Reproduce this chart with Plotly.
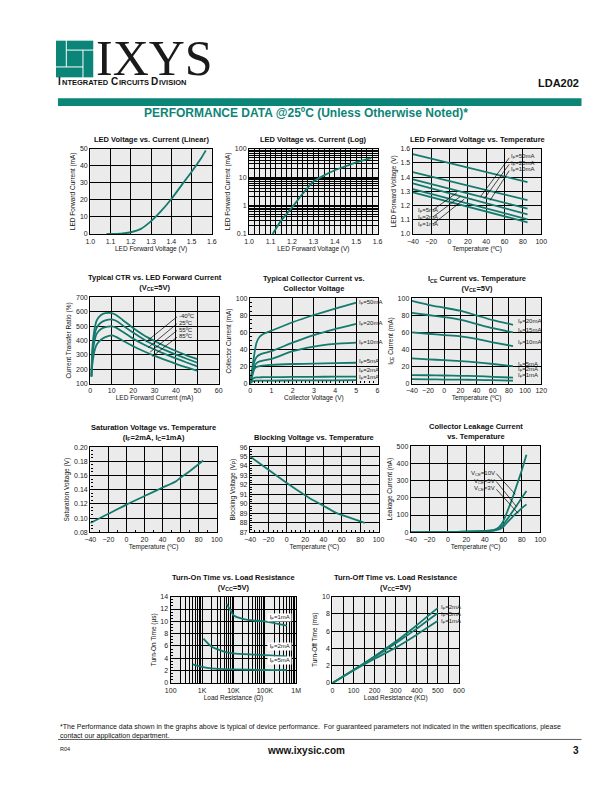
import plotly.graph_objects as go

W, H = 612, 792
TEAL = '#0B8577'
CURVE = '#157A6E'
FONT = 'Liberation Sans, Arial, sans-serif'

# ---- data ----
# 1 LED voltage vs current (linear)
led_vf = [1.08, 1.15, 1.20, 1.25, 1.30, 1.35, 1.40, 1.45, 1.50, 1.55, 1.57]
led_if = [0.0, 0.2, 1.0, 3.0, 7.5, 13.5, 20.5, 28.5, 36.5, 45.0, 49.0]
# 2 LED voltage vs current (log)
log_vf = [1.11, 1.15, 1.20, 1.25, 1.30, 1.35, 1.40, 1.45, 1.50, 1.57]
log_if = [0.1, 0.3, 0.85, 2.6, 7.0, 11.5, 17.5, 24.0, 33.0, 47.0]
# 3 LED forward voltage vs temperature
vft_temp = [-40, 85]
vft_curves = {
    '50mA': [1.562, 1.365],
    '20mA': [1.436, 1.238],
    '10mA': [1.384, 1.178],
    '5mA': [1.356, 1.138],
    '2mA': [1.316, 1.103],
    '1mA': [1.293, 1.082],
}
# 4 CTR vs LED forward current
ctr_if = [0.5, 1, 2, 3, 5, 7, 10, 12, 15, 20, 25, 30, 35, 40, 45, 50]
ctr_curves = {
    '-40ºC': [150, 350, 480, 540, 578, 590, 590, 578, 545, 487, 437, 397, 360, 327, 297, 270],
    '25ºC': [150, 320, 440, 490, 525, 540, 547, 537, 507, 455, 407, 367, 333, 302, 273, 245],
    '55ºC': [150, 290, 400, 448, 480, 493, 498, 490, 462, 413, 372, 337, 305, 275, 247, 220],
    '85ºC': [150, 240, 330, 372, 405, 423, 435, 425, 400, 360, 325, 293, 265, 238, 213, 190],
}
# 5 collector current vs collector voltage
vce = [0, 0.1, 0.2, 0.3, 0.45, 0.6, 1, 2, 3, 4, 5]
ic_curves = {
    '50mA': [0, 18, 35, 48, 55, 58, 62, 72, 80.5, 88, 95],
    '20mA': [0, 14, 26, 31, 34, 35.5, 38, 48, 57, 64, 70],
    '10mA': [0, 11, 20, 24, 26, 27, 29, 38, 43.5, 46.5, 48],
    '5mA': [0, 9, 17, 19.5, 20.5, 21, 22, 23, 23.5, 24, 24.5],
    '2mA': [0, 5, 6.8, 7.2, 7.4, 7.5, 7.6, 7.8, 8, 8.1, 8.2],
    '1mA': [0, 2.6, 3.2, 3.4, 3.5, 3.5, 3.6, 3.7, 3.8, 3.9, 4],
}
# 6 ICE current vs temperature
ice_temp = [-40, -20, 0, 20, 40, 60, 85]
ice_curves = {
    '20mA': [97, 92.5, 89, 85.5, 80, 74.5, 69],
    '15mA': [83, 80.5, 78, 75, 70, 65, 60],
    '10mA': [60, 58.5, 57, 55.5, 52.5, 48.5, 44],
    '5mA': [29.5, 28.5, 27.5, 26.5, 25, 23, 20.5],
    '2mA': [10, 9.8, 9.5, 9.2, 8.8, 8, 7],
    '1mA': [5.2, 5, 4.8, 4.6, 4.4, 4, 3.5],
}
# 7 saturation voltage vs temperature
sat_temp = [-40, -20, 0, 20, 40, 55, 60, 70, 85]
sat_v = [0.093, 0.106, 0.119, 0.131, 0.143, 0.152, 0.157, 0.166, 0.181]
# 8 blocking voltage vs temperature
blk_temp = [-40, -20, 0, 20, 25, 40, 55, 70, 85]
blk_v = [95.0, 93.6, 92.2, 90.9, 90.6, 89.8, 89.0, 88.5, 88.0]
# 9 collector leakage current vs temperature
lk_temp = [-40, 0, 20, 40, 50, 55, 60, 65, 70, 75, 80, 85]
lk_curves = {
    '10V': [0, 2, 4, 8, 14, 28, 65, 130, 200, 280, 360, 450],
    '5V': [0, 2, 4, 7, 12, 22, 45, 82, 120, 160, 200, 240],
    '3V': [0, 1.5, 3, 6, 10, 16, 32, 62, 90, 115, 140, 162],
}
# 10 turn-on time vs load resistance
ton_1_r = [6e3, 8e3, 1e4, 2e4, 5e4, 1e5, 2e5, 5e5]
ton_1_t = [12.8, 11.8, 11.0, 10.4, 10.1, 10.0, 9.7, 9.3]
ton_2_r = [1.1e3, 2e3, 5e3, 1e4, 5e4, 1e5, 5e5]
ton_2_t = [7.2, 5.9, 5.1, 4.8, 4.6, 4.5, 4.3]
ton_5_r = [500, 1e3, 2e3, 1e4, 1e5, 5e5]
ton_5_t = [3.0, 2.6, 2.35, 2.2, 2.1, 2.1]
# 11 turn-off time vs load resistance
toff_r = [0, 100, 200, 300, 400, 500]
toff_curves = {
    '2mA': [0, 1.5, 3.1, 4.8, 6.7, 8.7],
    '5mA': [0, 1.5, 3.0, 4.6, 6.3, 8.1],
    '1mA': [0, 1.45, 2.8, 4.1, 5.6, 7.2],
}

fig = go.Figure()


def px(x):
    return x / W


def py(y):
    return 1 - y / H


def panel(n, box, title, xtitle, ytitle, xaxis, yaxis):
    x0, y0, x1, y1 = box
    base = dict(showline=True, linecolor='black', linewidth=1.4, mirror=True,
                showgrid=True, gridcolor='black', gridwidth=1.3, zeroline=False,
                ticks='', tickfont=dict(size=7, color='#222'),
                title_font=dict(size=6.5, color='#111'), fixedrange=True)
    xa = dict(base, domain=[px(x0), px(x1)], anchor=f'y{n}', title_text=xtitle,
              title_standoff=2)
    xa.update(xaxis)
    ya = dict(base, domain=[py(y1), py(y0)], anchor=f'x{n}', title_text=ytitle,
              title_standoff=3)
    ya.update(yaxis)
    sx = 'xaxis' if n == 1 else f'xaxis{n}'
    sy = 'yaxis' if n == 1 else f'yaxis{n}'
    fig.update_layout(**{sx: xa, sy: ya})
    fig.add_annotation(text=f'<b>{title}</b>', x=px((x0 + x1) / 2), y=py(y0 - 3),
                       xref='paper', yref='paper', xanchor='center', yanchor='bottom',
                       showarrow=False, font=dict(size=7.5, color='#111'))


def curve(n, x, y, smooth=0.6):
    fig.add_trace(go.Scatter(x=x, y=y, xaxis=f'x{n}', yaxis=f'y{n}', mode='lines',
                             line=dict(color=CURVE, width=1.8, shape='spline',
                                       smoothing=smooth),
                             showlegend=False, hoverinfo='skip'))


def label(n, x, y, text, xanchor='left', bg=None):
    fig.add_annotation(text=text, x=x, y=y, xref=f'x{n}', yref=f'y{n}',
                       xanchor=xanchor, yanchor='middle', showarrow=False,
                       font=dict(size=6, color='#222'), bgcolor=bg, borderpad=0)


def leader(n, xa, ya, xb, yb):
    fig.add_shape(type='line', x0=xa, y0=ya, x1=xb, y1=yb, xref=f'x{n}', yref=f'y{n}',
                  line=dict(color='black', width=0.7))


def minor_in(d):
    return dict(ticks='inside', ticklen=2, tickcolor='black', dtick=d, showgrid=False)


def minor_grid(d):
    return dict(dtick=d, showgrid=True, gridcolor='black', gridwidth=1.3, ticks='')


# 1
panel(1, (86, 146, 210, 232), 'LED Voltage vs. Current (Linear)', 'LED Forward Voltage (V)',
      'LED Forward Current (mA)', dict(range=[1.0, 1.6], dtick=0.1, tickformat='.1f'),
      dict(range=[0, 50], dtick=10))
curve(1, led_vf, led_if)

# 2
panel(2, (248, 146, 379, 232), 'LED Voltage vs. Current (Log)', 'LED Forward Voltage (V)',
      'LED Forward Current (mA)',
      dict(range=[1.0, 1.6], dtick=0.1, tickformat='.1f', minor=minor_grid(0.025)),
      dict(type='log', range=[-1, 2], tickvals=[0.1, 1, 10, 100],
           ticktext=['0.1', '1', '10', '100'], minor=minor_grid('D1')))
curve(2, log_vf, log_if)

# 3
panel(3, (415, 146, 546, 232), 'LED Forward Voltage vs. Temperature', 'Temperature (ºC)',
      'LED Forward Voltage (V)', dict(range=[-40, 100], dtick=20),
      dict(range=[1.0, 1.6], dtick=0.1, tickformat='.1f'))
for k, v in vft_curves.items():
    curve(3, vft_temp, v)
for y, t in zip([1.543, 1.497, 1.452], ['50mA', '20mA', '10mA']):
    label(3, 66, y, f'I<sub>F</sub>={t}')
leader(3, 65, 1.535, 34, 1.265)
leader(3, 65, 1.49, 38, 1.25)
leader(3, 65, 1.445, 44, 1.235)
for y, t in zip([1.165, 1.115, 1.065], ['5mA', '2mA', '1mA']):
    label(3, -35, y, f'I<sub>F</sub>={t}')
leader(3, -18, 1.17, 8, 1.29)
leader(3, -18, 1.12, 12, 1.265)
leader(3, -18, 1.07, 16, 1.245)

# 4
panel(4, (86, 296, 217, 383), 'Typical CTR vs. LED Forward Current<br>(V<sub>CE</sub>=5V)',
      'LED Forward Current (mA)', 'Current Transfer Ratio (%)',
      dict(range=[0, 60], dtick=10), dict(range=[100, 700], dtick=100))
for k, v in ctr_curves.items():
    curve(4, ctr_if, v, 0.8)
for y, t in zip([570, 522, 475, 428], list(ctr_curves)):
    label(4, 41, y, t)
leader(4, 40.5, 565, 26, 390)
leader(4, 40.5, 517, 27, 350)
leader(4, 40.5, 470, 28, 320)
leader(4, 40.5, 423, 29, 290)

# 5
panel(5, (249, 297, 379, 383), 'Typical Collector Current vs.<br>Collector Voltage',
      'Collector Voltage (V)', 'Collector Current (mA)',
      dict(range=[0, 6], dtick=1, minor=minor_in(0.2)),
      dict(range=[0, 100], dtick=20, minor=minor_in(5)))
for k, v in ic_curves.items():
    curve(5, vce, v, 0.5)
for y, t in zip([95, 71, 48, 26, 15, 7], list(ic_curves)):
    label(5, 5.08, y, f'I<sub>F</sub>={t}')

# 6
panel(6, (414, 297, 546, 383), 'I<sub>CE</sub> Current vs. Temperature<br>(V<sub>CE</sub>=5V)',
      'Temperature (ºC)', 'I<sub>CE</sub> Current (mA)',
      dict(range=[-40, 120], dtick=20), dict(range=[0, 100], dtick=20))
for k, v in ice_curves.items():
    curve(6, ice_temp, v)
for y, t in zip([73, 62, 48, 23, 16, 9], list(ice_curves)):
    label(6, 90, y, f'I<sub>F</sub>={t}')

# 7
panel(7, (86, 447, 215, 533), 'Saturation Voltage vs. Temperature<br>(I<sub>F</sub>=2mA, I<sub>C</sub>=1mA)',
      'Temperature (ºC)', 'Saturation Voltage (V)',
      dict(range=[-40, 100], dtick=20, minor=minor_in(10)),
      dict(range=[0.08, 0.20], dtick=0.02, tickformat='.2f', minor=minor_in(0.005)))
curve(7, sat_temp, sat_v)

# 8
panel(8, (249, 447, 380, 533), 'Blocking Voltage vs. Temperature', 'Temperature (ºC)',
      'Blocking Voltage (V<sub>P</sub>)',
      dict(range=[-40, 100], dtick=20, minor=minor_in(5)),
      dict(range=[87, 96], dtick=1, minor=minor_in(0.25)))
curve(8, blk_temp, blk_v)

# 9
panel(9, (413, 446, 545, 533), 'Collector Leakage Current<br>vs. Temperature', 'Temperature (ºC)',
      'Leakage Current (nA)', dict(range=[-40, 100], dtick=20), dict(range=[0, 500], dtick=100))
for k, v in lk_curves.items():
    curve(9, lk_temp, v, 0.4)
for y, t in zip([343, 297, 252], list(lk_curves)):
    label(9, 52, y, f'V<sub>CE</sub>={t}', xanchor='right')
leader(9, 52.5, 340, 73, 220)
leader(9, 52.5, 294, 74, 150)
leader(9, 52.5, 249, 76, 110)

# 10
panel(10, (168, 598, 296, 685), 'Turn-On Time vs. Load Resistance<br>(V<sub>CC</sub>=5V)',
      'Load Resistance (Ω)', 'Turn-On Time (µs)',
      dict(type='log', range=[2, 6], tickvals=[1e2, 1e3, 1e4, 1e5, 1e6],
           ticktext=['100', '1K', '10K', '100K', '1M'], minor=minor_grid('D1')),
      dict(range=[0, 14], dtick=2, minor=minor_in(0.5)))
curve(10, ton_1_r, ton_1_t)
curve(10, ton_2_r, ton_2_t)
curve(10, ton_5_r, ton_5_t)
for y, t in zip([10.6, 5.9, 3.6], ['1mA', '2mA', '5mA']):
    label(10, 5.48, y, f' I<sub>F</sub>={t} ', xanchor='center', bg='white')

# 11
panel(11, (333, 598, 462, 685), 'Turn-Off Time vs. Load Resistance<br>(V<sub>CC</sub>=5V)',
      'Load Resistance (KΩ)', 'Turn-Off Time (ms)',
      dict(range=[0, 600], dtick=100, minor=minor_grid(50)),
      dict(range=[0, 10], dtick=2))
for k, v in toff_curves.items():
    curve(11, toff_r, v)
for y, t in zip([8.7, 7.9, 7.1], list(toff_curves)):
    label(11, 510, y, f'I<sub>F</sub>={t}')

# ---- page header / footer ----
logo = [(51, 37, 61, 63), (62, 37, 89, 46), (79, 47, 89, 74), (51, 64, 78, 74), (62, 47, 78, 63)]
for x0, y0, x1, y1 in logo:
    fig.add_shape(type='rect', xref='paper', yref='paper', x0=px(x0), x1=px(x1),
                  y0=py(y0), y1=py(y1), fillcolor=TEAL, line_width=0)
fig.add_shape(type='rect', xref='paper', yref='paper', x0=px(53), x1=px(587),
              y0=py(95), y1=py(103), fillcolor=TEAL, line_width=0)
fig.add_shape(type='line', xref='paper', yref='paper', x0=px(53), x1=px(587),
              y0=py(742), y1=py(742), line=dict(color='#333', width=0.8))


def page_text(text, x, y, size, xanchor='left', color='#111', family=FONT, yanchor='middle',
              pad=1, bw=1):
    fig.add_annotation(text=text, x=px(x), y=py(y), xref='paper', yref='paper',
                       xanchor=xanchor, yanchor=yanchor, showarrow=False, align='left',
                       borderpad=pad, borderwidth=bw,
                       font=dict(size=size, color=color, family=family))


page_text('IXYS', 90, 54, 50, family='Liberation Serif, Times New Roman, serif', color='#1a1a1a')

# small-caps division name, built from pieces (bold Arial advance widths)
adv = {'I': 278, 'N': 722, 'T': 611, 'E': 667, 'G': 778, 'R': 722, 'A': 722, 'D': 722,
       'C': 722, 'U': 722, 'S': 667, 'V': 667, 'O': 778, ' ': 278}
pieces = [('I', 10), ('NTEGRATED ', 7.5), ('C', 10), ('IRCUITS ', 7.5),
          ('D', 10), ('IVISION', 7.5)]
xc = 53
for txt, sz in pieces:
    page_text(f'<b>{txt.strip()}</b>', xc, 84, sz, yanchor='bottom', pad=0, bw=0)
    xc += sum(adv[c] for c in txt) / 1000 * sz + (1.2 if txt.endswith(' ') else 0.9)

page_text('<b>LDA202</b>', 587, 80, 11, xanchor='right')
page_text('<b>PERFORMANCE DATA @25ºC (Unless Otherwise Noted)*</b>', 306, 110, 12,
          xanchor='center', color=TEAL)
page_text('*The Performance data shown in the graphs above is typical of device performance.  '
          'For guaranteed parameters not indicated in the written specifications, please<br>'
          'contact our application department.', 53, 734, 7)
page_text('R04', 53, 752, 5.5)
page_text('<b>www.ixysic.com</b>', 306, 753, 10, xanchor='center')
page_text('<b>3</b>', 587, 753, 10, xanchor='right')

fig.update_layout(width=W, height=H, margin=dict(l=0, r=0, t=0, b=0),
                  paper_bgcolor='white', plot_bgcolor='#EBEBEB',
                  font=dict(family=FONT, color='#111'), showlegend=False)

fig.write_html('out.html', config={'displayModeBar': False},
               post_script="document.body.style.margin='0';document.body.style.overflow='hidden';")
